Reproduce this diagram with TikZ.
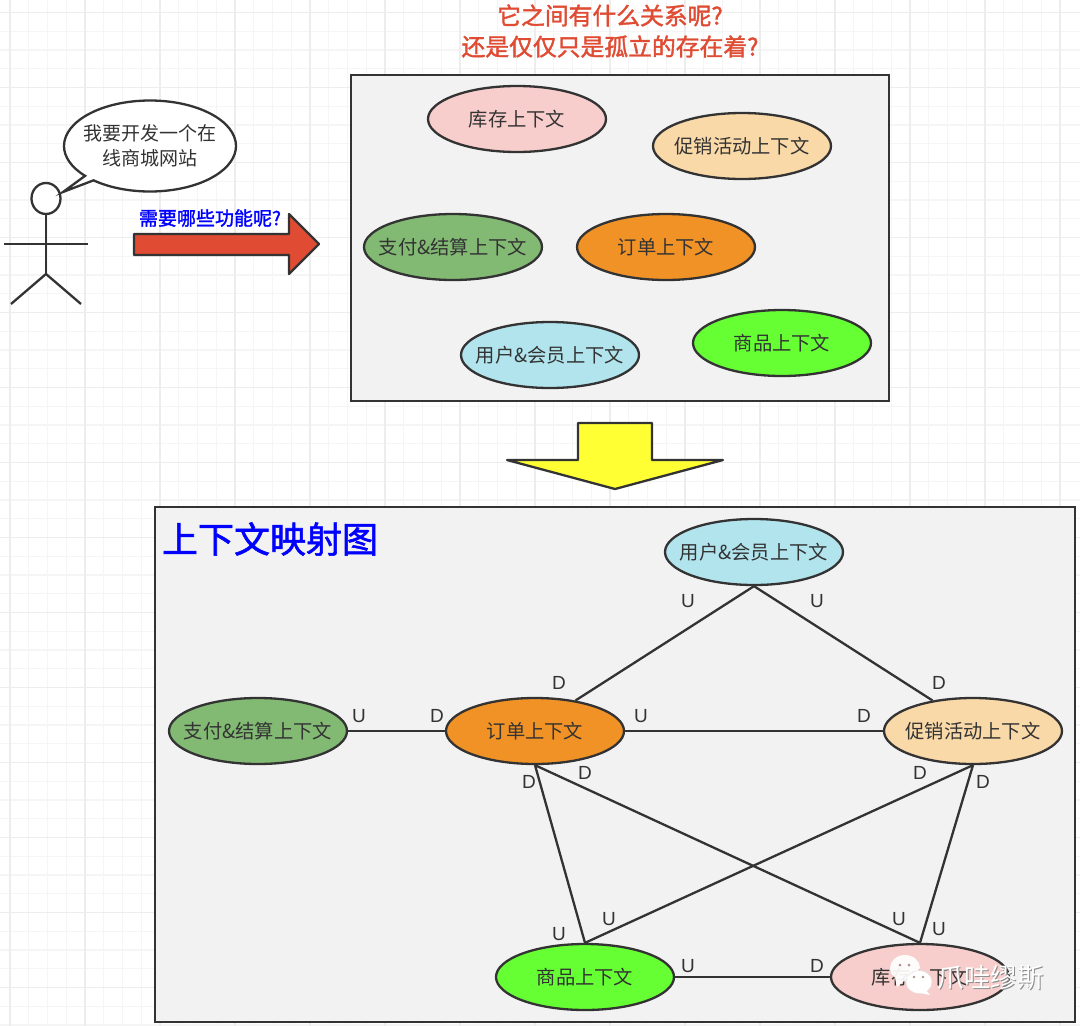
\documentclass[tikz,border=0pt]{standalone}
\usepackage{fontspec}
\newfontfamily\cjk{Noto Sans CJK SC}
\newfontfamily\cjkheavy[FakeBold=1.6]{Noto Sans CJK SC}
\setsansfont{Liberation Sans}
\usetikzlibrary{shapes.geometric, shapes.callouts}
\definecolor{ink}{HTML}{333333}
\definecolor{panelgray}{HTML}{F2F2F2}
\definecolor{ctxpink}{HTML}{F8CECC}
\definecolor{ctxpeach}{HTML}{FAD9A8}
\definecolor{ctxgreen}{HTML}{82B973}
\definecolor{ctxorange}{HTML}{F19226}
\definecolor{ctxblue}{HTML}{B1E4ED}
\definecolor{ctxlime}{HTML}{66FF33}
\definecolor{redarrow}{HTML}{E04C33}
\definecolor{yellowarrow}{HTML}{FFFF33}
\definecolor{bluetext}{HTML}{0000FF}
\begin{document}
\begin{tikzpicture}[
  x=1pt,y=-1pt,
  gridminor/.style={draw=black!4,line width=1.2pt},
  gridmajor/.style={draw=black!7,line width=1.4pt},
  panel/.style={rectangle,fill=panelgray,draw=ink,line width=2.3pt,inner sep=0pt},
  ctx/.style={ellipse,draw=ink,line width=2.3pt,inner xsep=-30pt,inner ysep=0pt,minimum width=178pt,minimum height=66pt,text=ink,text height=16pt,text depth=2pt,font=\cjk\fontsize{19.3}{22}\selectfont},
  limb/.style={draw=ink,line width=2.3pt},
  rel/.style={draw=ink,line width=2.3pt},
  side/.style={text=ink,inner sep=0pt,yshift=-1pt,font=\sffamily\fontsize{19}{22}\selectfont},
  bigarrow/.style={draw=ink,line width=2.3pt,line join=round}
]
  \useasboundingbox (0,0) rectangle (1080,1026);
  \fill[white] (0,0) rectangle (1080,1026);
  % grid
  \foreach \x in {28.75,47.5,66.25,103.75,122.5,141.25,178.75,197.5,216.25,253.75,272.5,291.25,328.75,347.5,366.25,403.75,422.5,441.25,478.75,497.5,516.25,553.75,572.5,591.25,628.75,647.5,666.25,703.75,722.5,741.25,778.75,797.5,816.25,853.75,872.5,891.25,928.75,947.5,966.25,1003.75,1022.5,1041.25} { \draw[gridminor](\x,0)--(\x,1026); }
  \foreach \y in {31.25,50,68.75,106.25,125,143.75,181.25,200,218.75,256.25,275,293.75,331.25,350,368.75,406.25,425,443.75,481.25,500,518.75,556.25,575,593.75,631.25,650,668.75,706.25,725,743.75,781.25,800,818.75,856.25,875,893.75,931.25,950,968.75,1006.25,1025} { \draw[gridminor](0,\y)--(1080,\y); }
  \foreach \x in {10,85,...,1060} { \draw[gridmajor](\x,0)--(\x,1026); }
  \foreach \y in {12.5,87.5,...,1020} { \draw[gridmajor](0,\y)--(1080,\y); }

  \node[text=redarrow,align=center,font=\cjkheavy\fontsize{23.8}{31}\selectfont] (question) at (610,31) {它之间有什么关系呢?\\还是仅仅只是孤立的存在着?};

  % person
  \node[ellipse,draw=ink,line width=2.3pt,fill=white,inner sep=0pt,minimum width=29pt,minimum height=31pt] (head) at (46,198.5) {};
  \coordinate (hip) at (46,274);
  \coordinate (armL) at (4,244);
  \coordinate (armR) at (88,244);
  \coordinate (footL) at (11,304);
  \coordinate (footR) at (81,304);
  \draw[limb](head.south)--(hip);
  \draw[limb](armL)--(armR);
  \draw[limb](footL)--(hip)--(footR);
  \node[ellipse callout,callout absolute pointer={(63,192)},callout pointer arc=8,draw=ink,line width=2.3pt,fill=white,inner xsep=-20pt,inner ysep=-6pt,minimum width=172pt,minimum height=91pt,align=center,text=ink,font=\cjk\fontsize{19}{25}\selectfont] (bubble) at (150,146) {我要开发一个在\\线商城网站};

  % arrows
  \draw[bigarrow,fill=redarrow](134,234)--(289,234)--(289,214)--(319,244)--(289,274)--(289,255)--(134,255)--cycle;
  \node[text=bluetext,inner sep=0pt,font=\cjkheavy\fontsize{19}{22}\selectfont] (need) at (210,218) {需要哪些功能呢?};
  \draw[bigarrow,fill=yellowarrow](578,423)--(652,423)--(652,460)--(723,460)--(615,489)--(507,460)--(578,460)--cycle;

  % upper panel
  \node[panel,minimum width=538pt,minimum height=326pt] (panelA) at (620,238) {};
  \node[ctx,fill=ctxpink] (stockA) at (517,119) {库存上下文};
  \node[ctx,fill=ctxpeach] (promoA) at (742,146) {促销活动上下文};
  \node[ctx,fill=ctxgreen] (payA) at (453,247) {支付\&结算上下文};
  \node[ctx,fill=ctxorange] (orderA) at (666,247) {订单上下文};
  \node[ctx,fill=ctxblue] (userA) at (550,355) {用户\&会员上下文};
  \node[ctx,fill=ctxlime] (goodsA) at (782,343) {商品上下文};

  % lower panel
  \node[panel,minimum width=920pt,minimum height=515pt] (panelB) at (615,764.5) {};
  \node[text=bluetext,inner sep=0pt,font=\cjkheavy\fontsize{36}{40}\selectfont] (mapTitle) at (270,539) {上下文映射图};
  \node[ctx,fill=ctxblue] (user) at (754,552) {用户\&会员上下文};
  \node[ctx,fill=ctxgreen] (pay) at (258,731) {支付\&结算上下文};
  \node[ctx,fill=ctxorange] (order) at (535,731) {订单上下文};
  \node[ctx,fill=ctxpeach] (promo) at (973,731) {促销活动上下文};
  \node[ctx,fill=ctxlime] (goods) at (585,977) {商品上下文};
  \node[ctx,fill=ctxpink] (stock) at (920,977) {库存上下文};

  \draw[rel](user.south)--(order.37);
  \draw[rel](user.south)--(promo.143);
  \draw[rel](pay)--(order);
  \draw[rel](order)--(promo);
  \draw[rel](order.south)--(goods.north);
  \draw[rel](order.south)--(stock.north);
  \draw[rel](promo.south)--(goods.north);
  \draw[rel](promo.south)--(stock.north);
  \draw[rel](goods)--(stock);

  \node[side] (u1) at (688,600) {U};
  \node[side] (u2) at (817,600) {U};
  \node[side] (d1) at (559,682) {D};
  \node[side] (d2) at (939,682) {D};
  \node[side] (u3) at (359,715) {U};
  \node[side] (d3) at (437,715) {D};
  \node[side] (u4) at (641,715) {U};
  \node[side] (d4) at (864,715) {D};
  \node[side] (d5) at (529,781) {D};
  \node[side] (d6) at (585,772) {D};
  \node[side] (d7) at (920,772) {D};
  \node[side] (d8) at (983,781) {D};
  \node[side] (u5) at (559,933) {U};
  \node[side] (u6) at (609,918) {U};
  \node[side] (u7) at (899,918) {U};
  \node[side] (u8) at (939,928) {U};
  \node[side] (u9) at (688,965) {U};
  \node[side] (d9) at (817,965) {D};

  % watermark
  \fill[white,opacity=.92] (905,968) ellipse (15 and 13);
  \fill[white,opacity=.92] (895,978)--(897,987)--(904,981)--cycle;
  \fill[white,draw=black!12] (919,982) ellipse (13 and 11.5);
  \fill[white] (926,990)--(930,995)--(920,993)--cycle;
  \fill[ctxpink!70!black] (900,965) circle (1.5) (909,965) circle (1.5) (914,977) circle (1.4) (923,977) circle (1.4);
  \node[text=black!45,inner sep=0pt,font=\cjk\fontsize{26.5}{30}\selectfont] (markShadow) at (991.5,978.5) {爪哇缪斯};
  \node[text=white,inner sep=0pt,font=\cjk\fontsize{26.5}{30}\selectfont] (mark) at (990.5,977.5) {爪哇缪斯};
\end{tikzpicture}
\end{document}
